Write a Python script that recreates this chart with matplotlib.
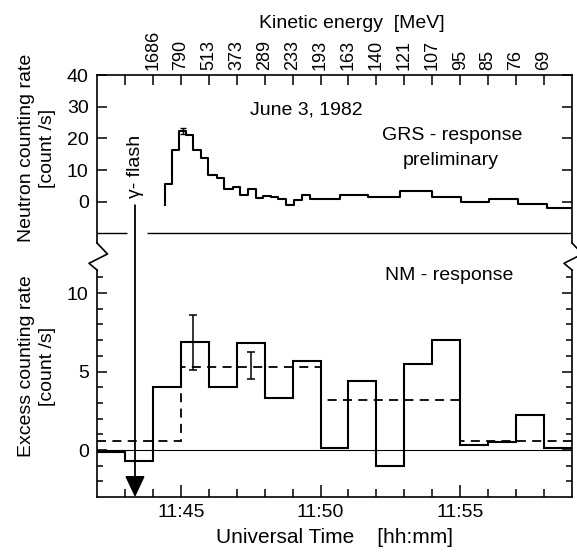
import matplotlib
matplotlib.use("Agg")
import matplotlib.pyplot as plt
from matplotlib.patches import ArrowStyle
from matplotlib.lines import Line2D

plt.rcParams['font.family'] = ['Liberation Sans Narrow', 'Liberation Sans', 'DejaVu Sans']

# time axis in minutes after 11:00 UT
t_min, t_max = 42, 59

# NM excess counting rate, 1-min bins from 11:42 to 11:59
nm_edges = list(range(42, 60))
nm_rate = [-0.15, -0.7, 4.0, 6.9, 4.0, 6.8, 3.3, 5.7, 0.1, 4.4, -1.0, 5.5, 7.0, 0.3, 0.5, 2.2, 0.1]

# 5-min averages (dashed)
avg_edges = [42, 45, 50, 55, 59]
avg_rate = [0.55, 5.3, 3.2, 0.55]

# error bars on NM panel
err_t = [45.45, 47.5]
err_y = [6.85, 5.4]
err_d = [1.75, 0.85]

# GRS neutron counting rate (preliminary)
grs_edges = [44.43, 44.70, 44.95, 45.20, 45.42, 45.72, 45.98, 46.28, 46.56, 46.86,
             47.13, 47.42, 47.68, 47.95, 48.23, 48.49, 48.75, 49.05, 49.33, 49.62,
             50.70, 51.71, 52.85, 53.98, 55.02, 56.03, 57.06, 58.10, 59.0]
grs_rate = [5.5, 16.3, 22.3, 21.2, 16.4, 13.7, 8.4, 7.4, 4.0, 4.8,
            2.1, 3.9, 1.1, 1.8, 1.5, 1.0, -1.2, 0.4, 2.1, 0.85,
            2.2, 1.4, 3.3, 1.6, 0.0, 0.75, -0.75, -2.1]
grs_start = -1.0
peak_t, peak_y, peak_err = 45.07, 22.3, 1.0

# kinetic energy scale on top
energy_ticks = list(range(43, 59))
energy_labels = ['', '1686', '790', '513', '373', '289', '233', '193', '163', '140',
                 '121', '107', '95', '85', '76', '69']

time_major = [45, 50, 55]
time_labels = ['11:45', '11:50', '11:55']

flash_t = 43.36

W, H = 577, 552
fig = plt.figure(figsize=(W / 100, H / 100), dpi=100)

def fx(px):
    return px / W

def fy(py):
    return 1 - py / H

left, right = 97, 572
ax_top = fig.add_axes([fx(left), fy(243), fx(right - left), (243 - 75.3) / H])
ax_bot = fig.add_axes([fx(left), fy(497.1), fx(right - left), (497.1 - 269.5) / H])
for ax in (ax_top, ax_bot):
    ax.set_facecolor('none')
    ax.set_xlim(t_min, t_max)
    for s in ax.spines.values():
        s.set_linewidth(1.2)

lw_hist = 1.5

# ---- upper panel ----
ax_top.set_ylim(-13.07, 40)
ax_top.spines['bottom'].set_visible(False)
xs = [grs_edges[0]] + grs_edges
ys = [grs_start] + grs_rate + [grs_rate[-1]]
ax_top.step(xs, ys, where='post', color='k', lw=lw_hist)
ax_top.errorbar([peak_t], [peak_y], yerr=[peak_err], fmt='none', ecolor='k',
                elinewidth=1.0, capsize=2.5, capthick=1.0)
ax_top.hlines(-10, t_min, 43.06, color='k', lw=1.0)
ax_top.hlines(-10, 43.78, t_max, color='k', lw=1.0)

ax_top.set_yticks([0, 10, 20, 30, 40])
ax_top.tick_params(axis='y', which='major', direction='in', length=7, width=1.1,
                   left=True, right=True, labelsize=14, pad=6)
ax_top.xaxis.tick_top()
ax_top.set_xticks(energy_ticks)
ax_top.set_xticklabels(energy_labels, rotation=90)
ax_top.tick_params(axis='x', which='major', direction='in', length=7, width=1.1,
                   top=True, bottom=False, labelsize=13, pad=4)

ax_top.text(49.5, 29.0, 'June 3, 1982', ha='center', va='center', fontsize=14)
ax_top.text(54.7, 21, 'GRS - response', ha='center', va='center', fontsize=14)
ax_top.text(54.65, 13, 'preliminary', ha='center', va='center', fontsize=14)
ax_top.text(flash_t, 1.2, 'γ- flash', rotation=90, ha='center', va='bottom', fontsize=14)

# ---- lower panel ----
ax_bot.set_ylim(-3, 11.5)
ax_bot.spines['top'].set_visible(False)
ax_bot.axhline(0, color='k', lw=0.8)
ax_bot.stairs(nm_rate, nm_edges, color='k', lw=lw_hist, baseline=None)
ax_bot.stairs(avg_rate, avg_edges, color='k', lw=1.3, ls=(0, (5, 3.5)), baseline=None)
ax_bot.errorbar(err_t, err_y, yerr=err_d, fmt='none', ecolor='k',
                elinewidth=1.1, capsize=3, capthick=1.1)

ax_bot.set_yticks([0, 5, 10])
ax_bot.set_yticks(range(-2, 12), minor=True)
ax_bot.tick_params(axis='y', which='major', direction='in', length=7, width=1.1,
                   left=True, right=True, labelsize=14, pad=6)
ax_bot.tick_params(axis='y', which='minor', direction='in', length=4.5, width=1.1,
                   left=True, right=True)
ax_bot.set_xticks(time_major)
ax_bot.set_xticklabels(time_labels)
ax_bot.set_xticks(range(43, 59), minor=True)
ax_bot.tick_params(axis='x', which='major', direction='in', length=9, width=1.1,
                   labelsize=14, pad=5)
ax_bot.tick_params(axis='x', which='minor', direction='in', length=6, width=1.1)
ax_bot.set_xlabel('Universal Time    [hh:mm]', fontsize=15, labelpad=5)
ax_bot.text(54.6, 11.1, 'NM - response', ha='center', va='center', fontsize=14)

# gamma flash arrow from upper panel down to the bottom axis
ax_bot.annotate('', xy=(flash_t, -3), xycoords='data',
                xytext=(flash_t, -1.1), textcoords=ax_top.transData,
                arrowprops=dict(arrowstyle=ArrowStyle('-|>', head_length=1.0, head_width=0.47),
                                mutation_scale=13, color='k', lw=1.3,
                                shrinkA=0, shrinkB=0))

# axis break zigzags on both side spines
for sx in (left, right):
    px = [sx, sx + 10.5, sx - 8, sx]
    py = [243, 254, 263.3, 270]
    fig.add_artist(Line2D([fx(p) for p in px], [fy(p) for p in py],
                          color='k', lw=1.2))

# labels
fig.text(fx(37), fy(148), 'Neutron counting rate\n[count /s]', rotation=90,
         ha='center', va='center', multialignment='center', fontsize=14, linespacing=1.35)
fig.text(fx(37), fy(366), 'Excess counting rate\n[count /s]', rotation=90,
         ha='center', va='center', multialignment='center', fontsize=14, linespacing=1.35)
fig.text(fx(352), fy(23), 'Kinetic energy  [MeV]', ha='center', va='center', fontsize=14)

fig.savefig('out.png', dpi=100)
